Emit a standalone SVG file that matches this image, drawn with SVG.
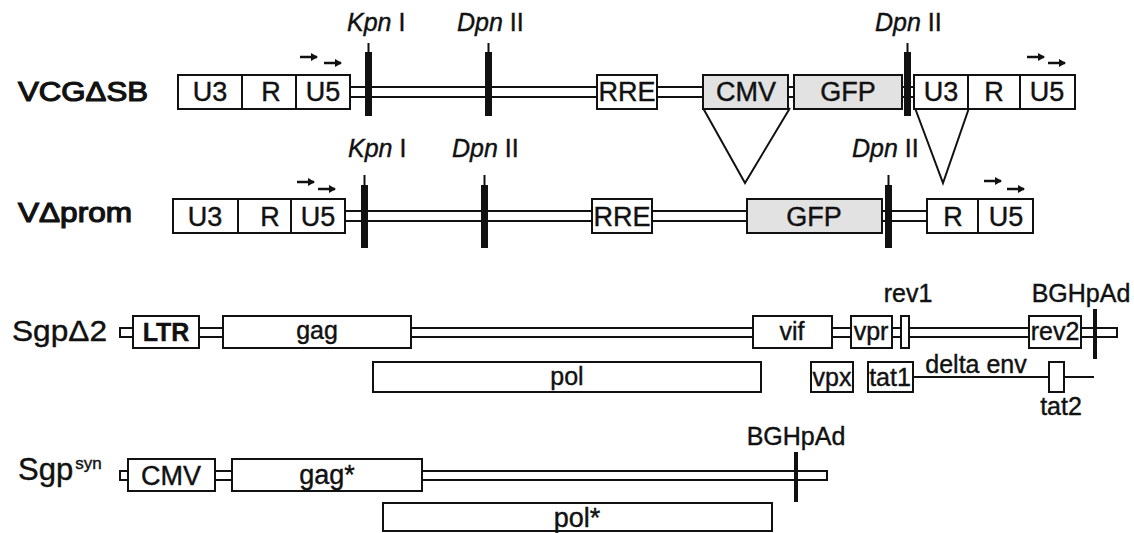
<svg xmlns="http://www.w3.org/2000/svg" width="1134" height="533" viewBox="0 0 1134 533">
<defs>
<marker id="ah" markerWidth="8" markerHeight="8" refX="6" refY="4" orient="auto" markerUnits="userSpaceOnUse">
<path d="M0,0 L7,4 L0,8 Z" fill="#111"/>
</marker>
</defs>
<style>
text{font-family:"Liberation Sans",Arial,sans-serif;fill:#111;stroke:#111;stroke-width:0.4}
.bx{fill:#fff;stroke:#111;stroke-width:2}
.gr{fill:#e2e2e2;stroke:#111;stroke-width:2}
.bb{fill:#fff;stroke:#111;stroke-width:2}
.ln{stroke:#111;stroke-width:2;fill:none}
.bar{fill:#111}
.arr{stroke:#111;stroke-width:2.5;marker-end:url(#ah)}
.t26{font-size:27px;text-anchor:middle}
.t25{font-size:25px;text-anchor:middle}
.en{font-size:25px}
.lbl{font-size:28px;stroke-width:1.2}
</style>
<rect width="1134" height="533" fill="#fff"/>

<g id="connectors">
<rect class="bb" x="350" y="87" width="564" height="10"/>
<rect class="bb" x="345" y="211" width="582" height="10"/>
<rect class="bb" x="120" y="328" width="997" height="9"/>
<rect class="bb" x="120" y="471" width="707" height="9"/>
<polyline class="ln" points="703,108 745,183 790,108"/>
<polyline class="ln" points="915,108 943,183 969,108"/>
<line class="ln" x1="913" y1="377" x2="1094" y2="377"/>
</g>

<g id="row1">
<text class="lbl" x="18" y="101" textLength="130" lengthAdjust="spacingAndGlyphs">VCGΔSB</text>
<g id="r1-ltr5">
<rect class="bx" x="178" y="75" width="172" height="34"/>
<line class="ln" x1="242" y1="75" x2="242" y2="109"/>
<line class="ln" x1="296" y1="75" x2="296" y2="109"/>
<text class="t26" x="210" y="101">U3</text>
<text class="t26" x="271" y="101">R</text>
<text class="t26" x="323" y="101">U5</text>
<line class="arr" x1="300" y1="57" x2="317" y2="57"/>
<line class="arr" x1="324" y1="63" x2="341" y2="63"/>
</g>
<g id="r1-kpn">
<rect class="bar" x="365" y="52" width="7" height="64"/>
<rect class="bar" x="367.5" y="43" width="2" height="10"/>
<text class="en" x="347" y="31"><tspan font-style="italic">Kpn</tspan> I</text>
</g>
<g id="r1-dpn1">
<rect class="bar" x="485" y="52" width="7" height="64"/>
<rect class="bar" x="487.5" y="43" width="2" height="10"/>
<text class="en" x="457" y="31"><tspan font-style="italic">Dpn</tspan> II</text>
</g>
<g id="r1-rre">
<rect class="bx" x="597" y="75" width="60" height="34"/>
<text class="t26" x="627" y="101">RRE</text>
</g>
<g id="r1-cmv">
<rect class="gr" x="703" y="75" width="85" height="34"/>
<text class="t26" x="746" y="101">CMV</text>
</g>
<g id="r1-gfp">
<rect class="gr" x="794" y="75" width="108" height="34"/>
<text class="t26" x="848" y="101">GFP</text>
</g>
<g id="r1-dpn2">
<rect class="bar" x="904" y="52" width="7" height="64"/>
<rect class="bar" x="906.5" y="43" width="2" height="10"/>
<text class="en" x="875" y="31"><tspan font-style="italic">Dpn</tspan> II</text>
</g>
<g id="r1-ltr3">
<rect class="bx" x="914" y="75" width="161" height="34"/>
<line class="ln" x1="968" y1="75" x2="968" y2="109"/>
<line class="ln" x1="1020" y1="75" x2="1020" y2="109"/>
<text class="t26" x="941" y="101">U3</text>
<text class="t26" x="994" y="101">R</text>
<text class="t26" x="1047" y="101">U5</text>
<line class="arr" x1="1027" y1="57" x2="1044" y2="57"/>
<line class="arr" x1="1048" y1="63" x2="1065" y2="63"/>
</g>
</g>

<g id="row2">
<text class="lbl" x="18" y="222" textLength="114" lengthAdjust="spacingAndGlyphs">VΔprom</text>
<g id="r2-ltr5">
<rect class="bx" x="173" y="199" width="172" height="34"/>
<line class="ln" x1="238" y1="199" x2="238" y2="233"/>
<line class="ln" x1="291" y1="199" x2="291" y2="233"/>
<text class="t26" x="205" y="226">U3</text>
<text class="t26" x="270" y="226">R</text>
<text class="t26" x="318" y="226">U5</text>
<line class="arr" x1="297" y1="182" x2="314" y2="182"/>
<line class="arr" x1="318" y1="189" x2="335" y2="189"/>
</g>
<g id="r2-kpn">
<rect class="bar" x="361" y="185" width="7" height="63"/>
<rect class="bar" x="363.5" y="175" width="2" height="11"/>
<text class="en" x="348" y="157"><tspan font-style="italic">Kpn</tspan> I</text>
</g>
<g id="r2-dpn1">
<rect class="bar" x="481" y="185" width="7" height="63"/>
<rect class="bar" x="483.5" y="175" width="2" height="11"/>
<text class="en" x="452" y="157"><tspan font-style="italic">Dpn</tspan> II</text>
</g>
<g id="r2-rre">
<rect class="bx" x="592" y="199" width="60" height="34"/>
<text class="t26" x="622" y="226">RRE</text>
</g>
<g id="r2-gfp">
<rect class="gr" x="747" y="199" width="135" height="34"/>
<text class="t26" x="814" y="226">GFP</text>
</g>
<g id="r2-dpn2">
<rect class="bar" x="885" y="185" width="7" height="63"/>
<rect class="bar" x="887.5" y="175" width="2" height="11"/>
<text class="en" x="852" y="157"><tspan font-style="italic">Dpn</tspan> II</text>
</g>
<g id="r2-ltr3">
<rect class="bx" x="927" y="199" width="106" height="34"/>
<line class="ln" x1="978" y1="199" x2="978" y2="233"/>
<text class="t26" x="953" y="226">R</text>
<text class="t26" x="1006" y="226">U5</text>
<line class="arr" x1="984" y1="181" x2="1001" y2="181"/>
<line class="arr" x1="1007" y1="189" x2="1024" y2="189"/>
</g>
</g>

<g id="row3">
<text x="12" y="341" font-size="29" textLength="95" lengthAdjust="spacingAndGlyphs">SgpΔ2</text>
<g id="r3-ltr"><rect class="bx" x="133" y="316" width="66" height="32"/><text class="t25" x="166" y="341" font-weight="bold" font-size="24">LTR</text></g>
<g id="r3-gag"><rect class="bx" x="223" y="316" width="188" height="32"/><text class="t25" x="317" y="339">gag</text></g>
<g id="r3-vif"><rect class="bx" x="753" y="316" width="79" height="32"/><text class="t25" x="792" y="340">vif</text></g>
<g id="r3-vpr"><rect class="bx" x="851" y="316" width="41" height="32"/><text class="t25" x="871" y="340">vpr</text></g>
<g id="r3-rev1"><rect class="bx" x="901" y="316" width="8" height="32"/><text class="t25" x="908" y="302" font-size="24">rev1</text></g>
<g id="r3-rev2"><rect class="bx" x="1029" y="316" width="52" height="32"/><text class="t25" x="1055" y="340">rev2</text></g>
<g id="r3-bgh"><rect class="bar" x="1093" y="309" width="4" height="50"/><text class="t25" x="1081" y="302">BGHpAd</text></g>
<g id="r3-pol"><rect class="bx" x="373" y="362" width="388" height="30"/><text class="t25" x="567" y="385">pol</text></g>
<g id="r3-vpx"><rect class="bx" x="811" y="362" width="42" height="30"/><text class="t25" x="832" y="386">vpx</text></g>
<g id="r3-tat1"><rect class="bx" x="868" y="362" width="45" height="30"/><text class="t25" x="890" y="386">tat1</text></g>
<g id="r3-env"><text class="t25" x="976" y="373">delta env</text></g>
<g id="r3-tat2"><rect class="bx" x="1049" y="362" width="15" height="30"/><text class="t25" x="1061" y="415">tat2</text></g>
</g>

<g id="row4">
<text x="18" y="480" font-size="31">Sgp<tspan font-size="17" dx="2" dy="-11">syn</tspan></text>
<g id="r4-cmv"><rect class="bx" x="128" y="459" width="87" height="32"/><text class="t26" x="171" y="485">CMV</text></g>
<g id="r4-gag"><rect class="bx" x="232" y="459" width="190" height="32"/><text class="t26" x="327" y="484">gag*</text></g>
<g id="r4-bgh"><rect class="bar" x="794" y="452" width="4" height="50"/><text class="t25" x="796" y="445">BGHpAd</text></g>
<g id="r4-pol"><rect class="bx" x="383" y="503" width="389" height="28"/><text class="t26" x="577" y="527">pol*</text></g>
</g>
</svg>
